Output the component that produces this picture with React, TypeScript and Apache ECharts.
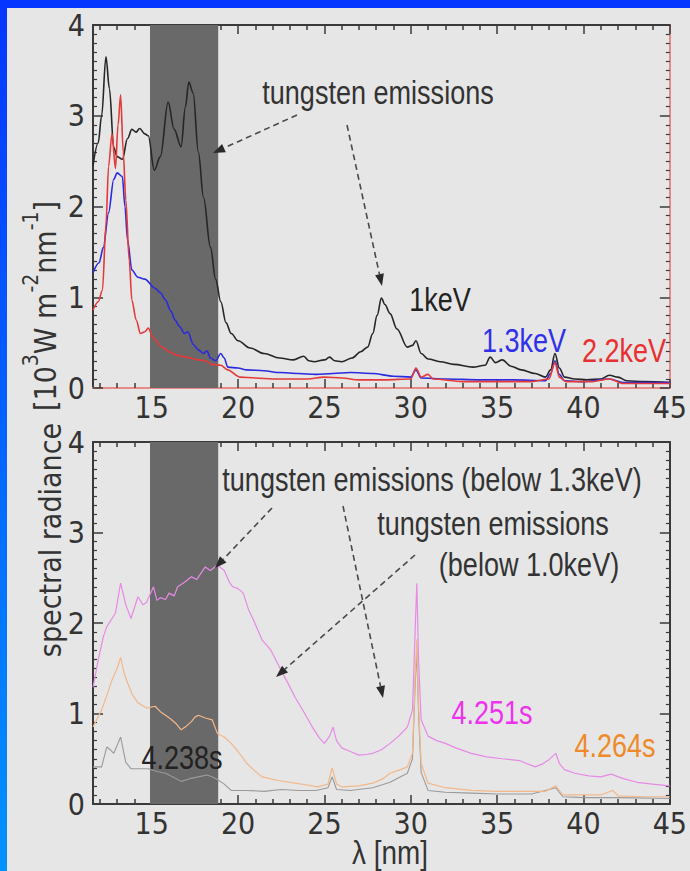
import React, { useEffect, useRef } from "react";
import * as echarts from "echarts";

// ---------- data ----------
const xMin = 11.6;
const xMax = 45;
const xMajorTicks = [15, 20, 25, 30, 35, 40, 45];
const xMinorTicks = [12, 13, 14, 16, 17, 18, 19, 21, 22, 23, 24, 26, 27, 28, 29, 31, 32, 33, 34, 36, 37, 38, 39, 41, 42, 43, 44];
const bandRange = [14.9, 18.85];

// top panel: 1keV (black)
const keV1Wl = [11.6, 11.9, 12.1, 12.35, 12.55, 12.8, 13.0, 13.3, 13.6, 13.85, 14.1, 14.3, 14.6, 14.8, 15.15, 15.5, 15.95, 16.3, 16.7, 16.95, 17.15, 17.4, 17.7, 18.0, 18.4, 18.7, 19.0, 19.3, 19.6, 20.0, 20.7, 21.5, 22.4, 23.2, 23.8, 24.1, 24.4, 25.0, 25.3, 25.6, 26.0, 26.6, 27.1, 27.5, 27.8, 28.05, 28.3, 28.5, 28.8, 29.2, 29.8, 30.1, 30.3, 30.6, 31.0, 31.7, 32.5, 33.6, 34.3, 34.6, 34.9, 35.3, 35.8, 36.4, 37.2, 37.8, 38.1, 38.35, 38.6, 38.9, 39.5, 40.2, 41.0, 41.5, 42.0, 42.5, 43.5, 45];
const keV1Val = [2.45, 2.7, 3.0, 3.65, 3.3, 2.65, 2.55, 2.52, 2.75, 2.85, 2.82, 2.86, 2.8, 2.78, 2.4, 2.55, 3.15, 2.85, 2.66, 3.1, 3.37, 3.25, 2.6, 2.1, 1.55, 1.2, 0.95, 0.72, 0.6, 0.52, 0.44, 0.38, 0.33, 0.31, 0.35, 0.3, 0.29, 0.31, 0.34, 0.3, 0.29, 0.33, 0.4, 0.45, 0.6, 0.8, 0.99, 0.92, 0.82, 0.65, 0.45, 0.47, 0.52, 0.38, 0.32, 0.29, 0.26, 0.23, 0.25, 0.34, 0.28, 0.31, 0.24, 0.2, 0.16, 0.12, 0.2, 0.38, 0.22, 0.12, 0.1, 0.09, 0.1, 0.14, 0.12, 0.08, 0.07, 0.06];

// top panel: 1.3keV (blue)
const keV13Wl = [11.6, 11.95, 12.2, 12.5, 12.8, 13.0, 13.3, 13.45, 13.6, 13.85, 14.2, 14.6, 15.2, 15.5, 15.8, 16.1, 16.35, 16.6, 16.9, 17.1, 17.4, 17.7, 18.0, 18.2, 18.4, 18.7, 19.0, 19.2, 19.4, 20.0, 20.5, 21.5, 22.4, 23.5, 24.5, 25.5, 26.5, 27.8, 29.0, 30.0, 30.3, 30.6, 32, 34, 36, 37.8, 38.1, 38.35, 38.6, 38.9, 40, 41.5, 42.3, 45];
const keV13Val = [1.27, 1.38, 1.55, 1.93, 2.3, 2.37, 2.33, 2.0, 1.63, 1.3, 1.22, 1.2, 1.1, 1.05, 0.97, 0.85, 0.75, 0.68, 0.6, 0.62, 0.48, 0.42, 0.38, 0.41, 0.33, 0.3, 0.38, 0.33, 0.23, 0.22, 0.2, 0.19, 0.17, 0.16, 0.15, 0.16, 0.17, 0.16, 0.13, 0.12, 0.2, 0.11, 0.1, 0.09, 0.09, 0.08, 0.16, 0.3, 0.15, 0.08, 0.07, 0.1, 0.06, 0.06];

// top panel: 2.2keV (red)
const keV22Wl = [11.6, 11.9, 12.15, 12.35, 12.5, 12.7, 12.9, 13.05, 13.2, 13.35, 13.5, 13.7, 13.85, 14.1, 14.35, 14.6, 14.8, 15.1, 15.6, 16.0, 16.5, 17.0, 17.7, 18.1, 18.5, 19.0, 19.4, 20.1, 21, 22, 23, 24, 25, 26, 27, 28.5, 30.0, 30.3, 30.6, 31.0, 31.3, 33, 35, 37, 38.0, 38.35, 38.6, 39, 40.5, 41.5, 42.3, 45];
const keV22Val = [0.86, 0.95, 1.08, 1.8, 2.44, 2.8, 2.42, 2.9, 3.23, 2.6, 2.07, 1.4, 0.97, 0.75, 0.6, 0.62, 0.66, 0.55, 0.45, 0.4, 0.36, 0.34, 0.31, 0.3, 0.26, 0.25, 0.2, 0.12, 0.11, 0.1, 0.1, 0.1, 0.12, 0.11, 0.09, 0.09, 0.1, 0.22, 0.12, 0.15, 0.1, 0.07, 0.07, 0.07, 0.1, 0.28, 0.12, 0.07, 0.07, 0.1, 0.05, 0.05];

// bottom panel: 4.238s (gray)
const t4238Wl = [11.6, 12.1, 12.4, 12.6, 12.8, 13.0, 13.2, 13.5, 13.8, 14.3, 14.8, 15.3, 15.8, 16.2, 16.7, 17.2, 17.7, 18.2, 18.5, 18.8, 19.2, 19.6, 20.5, 21.5, 22.5, 23.5, 24.5, 25.2, 25.45, 25.7, 26.5, 27.8, 28.8, 29.8, 30.1, 30.25, 30.35, 30.45, 30.6, 31.0, 32, 33.5, 35, 37, 38.4, 38.8, 40, 42, 45];
const t4238Val = [0.41, 0.41, 0.63, 0.6, 0.56, 0.65, 0.74, 0.46, 0.39, 0.39, 0.39, 0.36, 0.34, 0.3, 0.25, 0.28, 0.3, 0.32, 0.3, 0.27, 0.22, 0.15, 0.15, 0.14, 0.16, 0.15, 0.15, 0.18, 0.3, 0.16, 0.15, 0.18, 0.24, 0.34, 0.5, 1.3, 1.7, 1.0, 0.35, 0.15, 0.13, 0.12, 0.11, 0.11, 0.18, 0.08, 0.07, 0.07, 0.06];

// bottom panel: 4.264s (orange)
const t4264Wl = [11.6, 12.1, 12.4, 12.7, 13.0, 13.2, 13.4, 13.6, 13.9, 14.2, 14.7, 15.2, 15.5, 15.8, 16.1, 16.4, 16.7, 17.0, 17.3, 17.5, 17.7, 18.1, 18.5, 18.8, 19.2, 19.6, 20.0, 20.5, 21.0, 21.4, 22.3, 23.3, 24.0, 24.6, 25.2, 25.45, 25.7, 26.0, 27.0, 27.8, 28.4, 28.8, 29.4, 29.8, 30.1, 30.25, 30.35, 30.45, 30.6, 31.0, 32, 33.5, 35, 36.5, 37.8, 38.4, 38.8, 40, 41.0, 41.7, 42.0, 43.5, 45];
const t4264Val = [0.85, 1.04, 1.2, 1.37, 1.5, 1.62, 1.45, 1.34, 1.2, 1.12, 1.06, 1.08, 1.02, 0.98, 0.94, 0.89, 0.82, 0.86, 0.91, 0.96, 0.98, 0.95, 0.93, 0.78, 0.74, 0.67, 0.58, 0.45, 0.36, 0.3, 0.26, 0.23, 0.21, 0.19, 0.22, 0.4, 0.22, 0.19, 0.2, 0.23, 0.28, 0.34, 0.38, 0.41, 0.56, 1.4, 1.82, 1.1, 0.45, 0.23, 0.18, 0.15, 0.14, 0.14, 0.14, 0.2, 0.1, 0.1, 0.1, 0.15, 0.09, 0.08, 0.08];

// bottom panel: 4.251s (magenta)
const t4251Wl = [11.6, 11.9, 12.2, 12.4, 12.7, 12.9, 13.2, 13.5, 13.8, 14.2, 14.5, 14.7, 15.1, 15.3, 15.5, 15.8, 16.0, 16.3, 16.5, 16.9, 17.3, 17.6, 18.1, 18.4, 18.8, 19.2, 19.5, 19.7, 20.0, 20.3, 20.6, 20.9, 21.4, 21.9, 22.4, 22.9, 23.3, 23.8, 24.3, 24.7, 25.0, 25.3, 25.5, 25.7, 26.0, 26.5, 27.0, 27.5, 27.8, 28.3, 28.8, 29.3, 29.8, 30.1, 30.25, 30.35, 30.45, 30.6, 31.0, 31.5, 32.0, 32.6, 33.5, 34.4, 35.3, 36.3, 36.8, 37.2, 37.6, 38.0, 38.4, 38.6, 38.9, 39.5, 40.3, 41.0, 41.6, 42.3, 43.1, 44, 45];
const t4251Val = [1.29, 1.59, 1.85, 1.96, 2.05, 2.11, 2.44, 2.2, 2.05, 2.29, 2.2, 2.23, 2.4, 2.25, 2.28, 2.26, 2.33, 2.3, 2.4, 2.45, 2.51, 2.48, 2.62, 2.58, 2.64, 2.58, 2.45, 2.4, 2.38, 2.33, 2.15, 2.03, 1.81, 1.7, 1.51, 1.33, 1.18, 1.02, 0.85, 0.73, 0.67, 0.75, 0.85, 0.7, 0.62, 0.58, 0.54, 0.55, 0.56, 0.6, 0.67, 0.75, 0.85, 1.04, 1.9, 2.44, 1.6, 0.93, 0.75, 0.7, 0.67, 0.62, 0.56, 0.52, 0.5, 0.48, 0.44, 0.41, 0.44, 0.49, 0.56, 0.45, 0.38, 0.34, 0.31, 0.3, 0.33, 0.28, 0.24, 0.22, 0.2];

const FONT = "'Liberation Sans Narrow', 'DejaVu Sans Condensed', 'Arial Narrow', 'Liberation Sans', sans-serif";
const ANNO_FONT = "'Liberation Sans', Arial, sans-serif";
const FRAME = "#3a3a3a";
const RED_FRAME = "#e98a8a";

const zip = (xs: number[], ys: number[]) => xs.map((x, i) => [x, ys[i]]);

function arrow(x1: number, y1: number, x2: number, y2: number): any[] {
  const dx = x2 - x1;
  const dy = y2 - y1;
  const L = Math.hypot(dx, dy);
  const ux = dx / L;
  const uy = dy / L;
  const head = 12;
  const hw = 4.5;
  const bx = x2 - ux * head;
  const by = y2 - uy * head;
  return [
    {
      type: "line",
      shape: { x1, y1, x2: bx, y2: by },
      style: { stroke: "#4a4a4a", lineWidth: 1.6, lineDash: [6, 4] },
      z: 50,
    },
    {
      type: "polygon",
      shape: {
        points: [
          [x2, y2],
          [bx - uy * hw, by + ux * hw],
          [bx + uy * hw, by - ux * hw],
        ],
      },
      style: { fill: "#2a2a2a" },
      z: 50,
    },
  ];
}

// narrow annotation text: Liberation Sans squeezed horizontally
function label(text: string, x: number, y: number, color: string, size = 33): any {
  return {
    type: "text",
    x,
    y,
    scaleX: 0.82,
    z: 60,
    style: {
      text,
      fill: color,
      font: `${size}px ${ANNO_FONT}`,
      align: "center",
      verticalAlign: "middle",
    },
  };
}

function xAxes(gridIndex: number, bottomLine: string): any[] {
  const base = {
    gridIndex,
    type: "value",
    min: xMin,
    max: xMax,
    splitLine: { show: false },
  };
  return [
    {
      ...base,
      position: "bottom",
      axisLine: { show: true, lineStyle: { color: bottomLine, width: 2 } },
      axisTick: { show: true, inside: true, length: 9, customValues: xMajorTicks, lineStyle: { color: FRAME, width: 1.5 } },
      axisLabel: { show: true, customValues: xMajorTicks, margin: 4, color: "#333", fontSize: 30, fontFamily: FONT },
    },
    {
      ...base,
      position: "bottom",
      axisLine: { show: false },
      axisTick: { show: true, inside: true, length: 5, customValues: xMinorTicks, lineStyle: { color: FRAME, width: 1.5 } },
      axisLabel: { show: false },
    },
    {
      ...base,
      position: "top",
      axisLine: { show: true, lineStyle: { color: FRAME, width: 2 } },
      axisTick: { show: true, inside: true, length: 9, customValues: xMajorTicks, lineStyle: { color: FRAME, width: 1.5 } },
      axisLabel: { show: false },
    },
    {
      ...base,
      position: "top",
      axisLine: { show: false },
      axisTick: { show: true, inside: true, length: 5, customValues: xMinorTicks, lineStyle: { color: FRAME, width: 1.5 } },
      axisLabel: { show: false },
    },
  ];
}

function yAxes(gridIndex: number, rightLine: string): any[] {
  const base = {
    gridIndex,
    type: "value",
    min: 0,
    max: 4,
    interval: 1,
    splitLine: { show: false },
    axisTick: { show: true, inside: true, length: 10, lineStyle: { color: FRAME, width: 1.5 } },
    minorTick: { show: true, splitNumber: 10, length: 4, lineStyle: { color: FRAME, width: 1.2 } },
  };
  return [
    {
      ...base,
      position: "left",
      axisLine: { show: true, lineStyle: { color: FRAME, width: 2 } },
      axisLabel: { show: true, margin: 8, color: "#333", fontSize: 30, fontFamily: FONT },
    },
    {
      ...base,
      position: "right",
      axisLine: { show: true, lineStyle: { color: rightLine, width: 2 } },
      axisLabel: { show: false },
    },
  ];
}

function lineSeries(name: string, xi: number, yi: number, data: number[][], color: string, width: number, smooth: number): any {
  return {
    name,
    type: "line",
    xAxisIndex: xi,
    yAxisIndex: yi,
    data,
    showSymbol: false,
    symbol: "none",
    smooth,
    smoothMonotone: "x",
    z: 3,
    lineStyle: { color, width },
  };
}

function bandSeries(xi: number, yi: number): any {
  return {
    type: "line",
    xAxisIndex: xi,
    yAxisIndex: yi,
    data: [],
    z: 1,
    markArea: {
      silent: true,
      itemStyle: { color: "#696969", opacity: 1 },
      data: [[{ xAxis: bandRange[0] }, { xAxis: bandRange[1] }]],
    },
  };
}

export default function App() {
  const ref = useRef<HTMLDivElement>(null);

  useEffect(() => {
    if (!ref.current) return;
    const chart = echarts.init(ref.current, null, { renderer: "svg" });

    const graphic: any[] = [
      { type: "rect", shape: { x: 0, y: 0, width: 690, height: 8 }, style: { fill: "#0536ff" }, z: 100 },
      {
        type: "rect",
        shape: { x: 0, y: 0, width: 7, height: 871 },
        style: {
          fill: new echarts.graphic.LinearGradient(0, 0, 0, 1, [
            { offset: 0, color: "#0536ff" },
            { offset: 1, color: "#0092ff" },
          ]),
        },
        z: 100,
      },
      // y axis title
      {
        type: "text",
        x: 50,
        y: 540,
        rotation: Math.PI / 2,
        z: 60,
        style: {
          text: "spectral radiance",
          fill: "#333",
          font: `30px ${FONT}`,
          align: "center",
          verticalAlign: "middle",
        },
      },
      {
        type: "text",
        x: 40,
        y: 306,
        rotation: Math.PI / 2,
        z: 60,
        style: {
          text: "{m|[10}{s|3}{m|W m}{s|-2}{m|nm}{s|-1}{m|]}",
          fill: "#333",
          align: "center",
          verticalAlign: "middle",
          rich: {
            m: { fontSize: 30, fontFamily: FONT, fill: "#333", lineHeight: 40, verticalAlign: "bottom" },
            s: { fontSize: 21, fontFamily: FONT, fill: "#333", lineHeight: 40, verticalAlign: "top" },
          },
        },
      },
      label("tungsten emissions", 378, 93, "#333"),
      label("1keV", 440, 300, "#222"),
      label("1.3keV", 524, 341, "#3030e8"),
      label("2.2keV", 624, 351, "#e83030"),
      label("tungsten emissions (below 1.3keV)", 432, 480, "#333"),
      label("tungsten emissions", 493, 524, "#333"),
      label("(below 1.0keV)", 529, 565, "#333"),
      label("4.238s", 182, 758, "#222"),
      label("4.251s", 492, 713, "#ee33ee"),
      label("4.264s", 615, 746, "#ee8a2a"),
      label("λ [nm]", 390, 853, "#333", 34),
      ...arrow(297, 115, 213, 153),
      ...arrow(347, 125, 382, 286),
      ...arrow(272, 508, 215, 568),
      ...arrow(343, 506, 383, 698),
      ...arrow(415, 555, 276, 677),
    ];

    chart.setOption({
      animation: false,
      backgroundColor: "#e6e6e6",
      grid: [
        { left: 93, top: 25, width: 586, height: 363, containLabel: false },
        { left: 93, top: 442, width: 587, height: 362, containLabel: false },
      ],
      xAxis: [...xAxes(0, RED_FRAME), ...xAxes(1, FRAME)],
      yAxis: [...yAxes(0, RED_FRAME), ...yAxes(1, FRAME)],
      series: [
        bandSeries(0, 0),
        lineSeries("1keV", 0, 0, zip(keV1Wl, keV1Val), "#262626", 1.6, 0.35),
        lineSeries("1.3keV", 0, 0, zip(keV13Wl, keV13Val), "#2a2ae0", 1.6, 0.3),
        lineSeries("2.2keV", 0, 0, zip(keV22Wl, keV22Val), "#e43a3a", 1.6, 0.3),
        bandSeries(4, 2),
        lineSeries("4.238s", 4, 2, zip(t4238Wl, t4238Val), "#9a9a9a", 1.1, 0),
        lineSeries("4.264s", 4, 2, zip(t4264Wl, t4264Val), "#f2b88a", 1.2, 0),
        lineSeries("4.251s", 4, 2, zip(t4251Wl, t4251Val), "#e68ae6", 1.2, 0),
      ],
      graphic,
    });

    return () => chart.dispose();
  }, []);

  return (
    <div
      ref={ref}
      style={{ position: "fixed", left: 0, top: 0, width: 690, height: 871 }}
    />
  );
}
